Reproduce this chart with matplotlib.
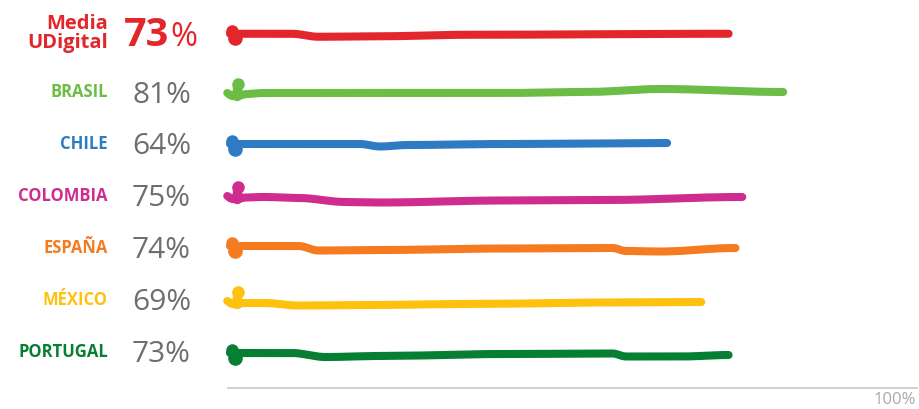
import numpy as np
import matplotlib
matplotlib.use('Agg')
import matplotlib.pyplot as plt

# ---- data ----
labels = ['Media\nUDigital', 'BRASIL', 'CHILE', 'COLOMBIA', 'ESPAÑA', 'MÉXICO', 'PORTUGAL']
values = [73, 81, 64, 75, 74, 69, 73]
colors = ['#e3262b', '#6cbd45', '#2e7bc4', '#d02b8f', '#f47b20', '#fec10e', '#067f32']
axis_max_label = '100%'

# ---- style / layout ----
row_pos = [-0.12, 1, 2, 3, 4, 5, 6]
start_style = ['blob', 'hook', 'blob', 'hook', 'blob', 'hook', 'blob']
# hand-drawn wobble: (position in % of axis, vertical offset in px)
wobbles = [
    [(0, 0), (9, 0), (13, 3), (22, 2.5), (35, 1), (73, 0)],
    [(0, 3), (5, 1), (40, 1), (52, 0), (63, -3), (81, 0)],
    [(0, 0), (19, 0), (22, 2.5), (26, 1), (40, 0), (64, -1)],
    [(0, 2), (5, 1), (10, 2), (17, 6), (22, 6.5), (40, 4.5), (55, 4), (75, 1)],
    [(0, -2), (10, -2), (13, 2.5), (22, 2), (40, 0.5), (56, 0), (58, 3), (63, 3.5), (74, 0)],
    [(0, 3), (5, 3), (10, 5.5), (20, 5), (35, 4), (55, 2.5), (69, 2)],
    [(0, 1), (9, 1), (14, 5), (22, 4), (40, 2), (56, 1.5), (58, 4.5), (66, 4.5), (73, 3)],
]
ROW_PX = 52.0
LW = 5.8
plt.rcParams['font.family'] = ['Open Sans', 'DejaVu Sans']

W, H = 920, 409
fig = plt.figure(figsize=(W / 100, H / 100), dpi=100)
x0_px, x1_px, ybot_px = 230, 913, 388
ax = fig.add_axes([x0_px / W, (H - ybot_px) / H, (x1_px - x0_px) / W, ybot_px / H])
ax.set_xlim(0, 100)
top_row = -40 / ROW_PX
bot_row = (ybot_px - 40) / ROW_PX
ax.set_ylim(bot_row, top_row)
ax.axis('off')


def px2row(d):
    return d / ROW_PX


def smooth_interp(xs, wx, wy):
    out = np.empty_like(xs)
    for k, x in enumerate(xs):
        j = np.searchsorted(wx, x, side='right') - 1
        j = min(max(j, 0), len(wx) - 2)
        t = (x - wx[j]) / (wx[j + 1] - wx[j])
        t = min(max(t, 0.0), 1.0)
        s = 0.5 - 0.5 * np.cos(np.pi * t)
        out[k] = wy[j] + (wy[j + 1] - wy[j]) * s
    return out


for i, (lab, v, c) in enumerate(zip(labels, values, colors)):
    y0 = row_pos[i]
    wx = np.array([p[0] for p in wobbles[i]], dtype=float)
    wy = np.array([p[1] for p in wobbles[i]], dtype=float)
    wx = wx * v / wx[-1]
    xs = np.linspace(0, v, 400)
    ys = y0 + px2row(smooth_interp(xs, wx, wy))
    ax.plot(xs, ys, color=c, lw=LW, solid_capstyle='round', solid_joinstyle='round',
            zorder=3, clip_on=False)
    if start_style[i] == 'blob':
        ax.plot([0.35], [y0 + px2row(wy[0] - 3)], 'o', ms=9, color=c, mec='none', zorder=4, clip_on=False)
        ax.plot([0.8], [y0 + px2row(wy[0] + 4.5)], 'o', ms=10.5, color=c, mec='none', zorder=4, clip_on=False)
    else:
        hx = [-0.4, 0.3, 1.0, 1.8]
        hy = [y0 + px2row(wy[0] - 2), y0 + px2row(wy[0] + 1), y0 + px2row(wy[0] + 1.5), y0 + px2row(wy[0])]
        ax.plot(hx, hy, color=c, lw=LW, solid_capstyle='round', zorder=3, clip_on=False)
        ax.plot([1.0, 1.0], [y0 + px2row(wy[0] + 1), y0 + px2row(wy[0] - 11)], color=c, lw=LW + 1,
                solid_capstyle='round', zorder=3, clip_on=False)
        ax.plot([1.1], [y0 + px2row(wy[0] - 11)], 'o', ms=9, color=c, mec='none', zorder=4, clip_on=False)

    # labels
    yfig_px = 40 + y0 * ROW_PX
    if i == 0:
        fig.text(108 / W, 1 - yfig_px / H, lab, ha='right', va='center', color=c,
                 fontsize=14.5, fontweight='bold', linespacing=0.95)
        fig.text(124 / W, 1 - (yfig_px + 12) / H, str(v), ha='left', va='baseline', color=c,
                 fontsize=28.5, fontweight='bold')
        fig.text(170 / W, 1 - (yfig_px + 12) / H, '%', ha='left', va='baseline', color=c,
                 fontsize=23.5)
    else:
        fig.text(108 / W, 1 - yfig_px / H, lab, ha='right', va='center', color=c,
                 fontsize=12, fontweight='bold')
        fig.text(132 / W, 1 - (yfig_px + 10.5) / H, f'{v}%', ha='left', va='baseline',
                 color='#6d6e71', fontsize=21.5)

ax.plot([-0.3, 100.6], [bot_row, bot_row], color='#cccccc', lw=1.3, clip_on=False, zorder=1)
fig.text(916 / W, 1 - 404 / H, axis_max_label, ha='right', va='baseline', color='#a7a9ac',
         fontsize=12)

fig.savefig('out.png', dpi=100, facecolor='white')
